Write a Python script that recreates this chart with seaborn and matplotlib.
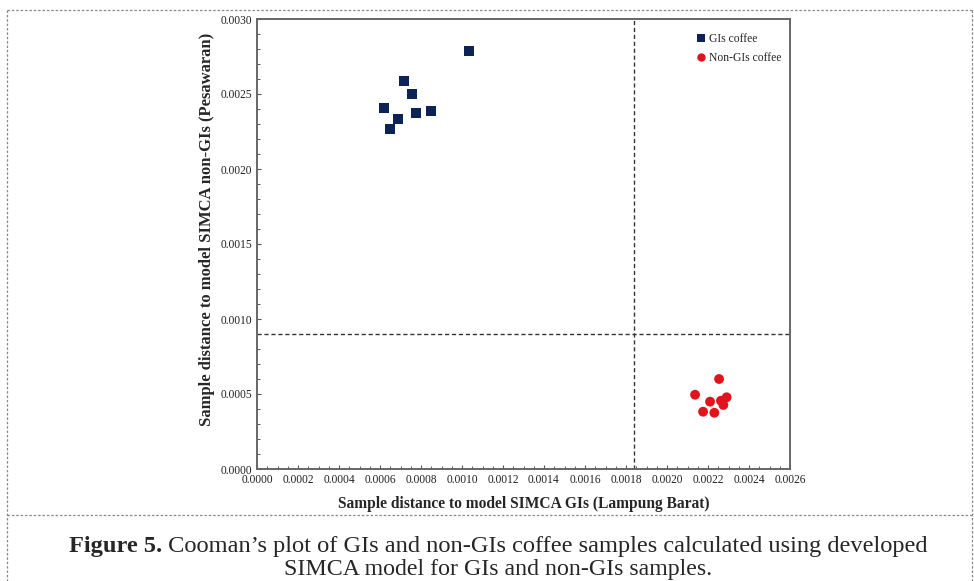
import pandas as pd
import matplotlib.pyplot as plt
import seaborn as sns
from matplotlib.lines import Line2D
from matplotlib.ticker import MultipleLocator

# Data
gi_x = [0.001036, 0.000717, 0.000758, 0.000620, 0.000847, 0.000774, 0.000686, 0.000649]
gi_y = [0.002789, 0.002589, 0.002498, 0.002405, 0.002387, 0.002373, 0.002335, 0.002265]
non_x = [0.002254, 0.002137, 0.002291, 0.002210, 0.002263, 0.002275, 0.002176, 0.002231]
non_y = [0.000600, 0.000495, 0.000478, 0.000449, 0.000455, 0.000427, 0.000382, 0.000375]
groups = ['GIs coffee', 'Non-GIs coffee']
x_limit = 0.00184   # critical distance, GIs model
y_limit = 0.00090   # critical distance, non-GIs model

df = pd.DataFrame({
    'x': gi_x + non_x,
    'y': gi_y + non_y,
    'group': [groups[0]] * len(gi_x) + [groups[1]] * len(non_x),
})

sns.set_style('white')
plt.rcParams['font.family'] = ['Liberation Serif', 'DejaVu Serif']

fig = plt.figure(figsize=(9.74, 5.81), dpi=100)
ax = fig.add_axes([257 / 974, 1 - 469 / 581, 533 / 974, 450 / 581])

sns.scatterplot(data=df, x='x', y='y', hue='group', style='group',
                markers={groups[0]: 's', groups[1]: 'o'},
                palette={groups[0]: '#0d2356', groups[1]: '#e0141b'},
                s=50, linewidth=0, ax=ax)

ax.axvline(x_limit, color='#333333', lw=1.0, ls=(0, (3, 2)))
ax.plot([0, 0.0026], [y_limit, y_limit], color='#333333', lw=1.0, ls=(0, (3, 2)))

ax.set_xlim(0, 0.0026)
ax.set_ylim(0, 0.0030)
ax.xaxis.set_major_locator(MultipleLocator(0.0002))
ax.xaxis.set_minor_locator(MultipleLocator(0.00005))
ax.yaxis.set_major_locator(MultipleLocator(0.0005))
ax.yaxis.set_minor_locator(MultipleLocator(0.0001))
ax.xaxis.set_major_formatter(lambda v, p: f'{v:.4f}')
ax.yaxis.set_major_formatter(lambda v, p: f'{v:.4f}')
ax.tick_params(which='both', direction='in', color='#555555', labelsize=8.3,
               bottom=True, left=True, labelcolor='#222222')
ax.tick_params(which='major', length=3, width=0.8)
ax.tick_params(which='minor', length=2, width=0.7)
for sp in ax.spines.values():
    sp.set_color('#666666')
    sp.set_linewidth(1.4)

ax.set_xlabel('Sample distance to model SIMCA GIs (Lampung Barat)',
              fontsize=11.2, fontweight='bold', labelpad=7)
ax.set_ylabel('Sample distance to model SIMCA non-GIs (Pesawaran)',
              fontsize=12, fontweight='bold')
ax.yaxis.set_label_coords(-0.078, 0.533)

ax.legend(loc='upper right', bbox_to_anchor=(1.003, 0.992), frameon=False,
          fontsize=8.4, handletextpad=-0.1, handlelength=1.6, labelspacing=0.6,
          markerscale=0.85, title=None)

# dashed frame around the figure panel
dash = dict(color='#888888', lw=0.9, ls=(0, (2, 1.5)))
W, H = 974, 581
for (x0, y0), (x1, y1) in [((7, 10), (972, 10)), ((7, 515), (972, 515)),
                           ((7, 10), (7, 581)), ((972, 10), (972, 581))]:
    fig.add_artist(Line2D([x0 / W, x1 / W], [1 - y0 / H, 1 - y1 / H], **dash))

# caption, first line with bold "Figure 5." centred as a whole
cap = 17.6
t1 = fig.text(0, 1 - 552 / H, 'Figure 5.', fontsize=cap, fontweight='bold',
              va='baseline', ha='left')
t2 = ax.annotate(' Cooman\u2019s plot of GIs and non-GIs coffee samples calculated using developed',
                 xy=(1, 0), xycoords=t1, va='bottom', ha='left', fontsize=cap,
                 annotation_clip=False)
fig.canvas.draw()
r = fig.canvas.get_renderer()
total = t1.get_window_extent(r).width + t2.get_window_extent(r).width
t1.set_x((498 - total / 2) / W)
fig.text(498 / W, 1 - 575 / H, 'SIMCA model for GIs and non-GIs samples.',
         fontsize=17.2, ha='center', va='baseline')

fig.savefig('out.png', dpi=100)
